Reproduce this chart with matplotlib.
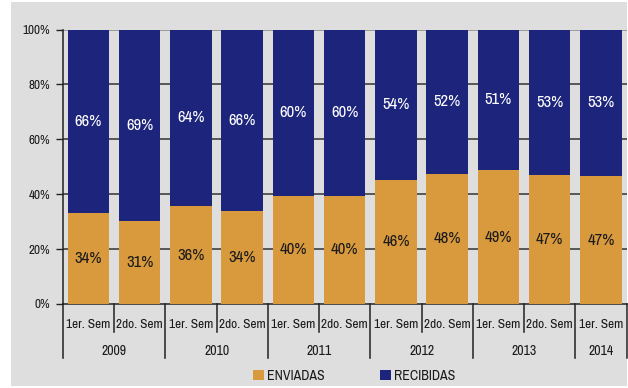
import matplotlib
matplotlib.use("Agg")
import matplotlib.pyplot as plt
from matplotlib.patches import Rectangle, Patch
from matplotlib.lines import Line2D
import matplotlib.transforms as mtransforms

plt.rcParams['font.family'] = ['Archivo Narrow', 'Liberation Sans', 'DejaVu Sans']

# ---- data ----
semesters = ["1er. Sem", "2do. Sem", "1er. Sem", "2do. Sem", "1er. Sem", "2do. Sem",
             "1er. Sem", "2do. Sem", "1er. Sem", "2do. Sem", "1er. Sem"]
years = ["2009", "2010", "2011", "2012", "2013", "2014"]
year_counts = [2, 2, 2, 2, 2, 1]
enviadas = [33.1, 30.2, 35.6, 33.9, 39.4, 39.4, 45.2, 47.4, 48.8, 46.9, 46.5]
recibidas = [100 - v for v in enviadas]
enviadas_labels = ["34%", "31%", "36%", "34%", "40%", "40%", "46%", "48%", "49%", "47%", "47%"]
recibidas_labels = ["66%", "69%", "64%", "66%", "60%", "60%", "54%", "52%", "51%", "53%", "53%"]
yticks = [0, 20, 40, 60, 80, 100]
ytick_labels = ["0%", "20%", "40%", "60%", "80%", "100%"]

c_env = "#D99A3E"
c_rec = "#1C247C"
bg = "#DEDEDE"

W, H = 628, 388
fig = plt.figure(figsize=(W / 100, H / 100), dpi=100)
fig.patch.set_facecolor("white")
# gray panel
fig.patches.append(Rectangle((11 / W, 1 - 386 / H), (627 - 11) / W, (386 - 2) / H,
                             transform=fig.transFigure, facecolor=bg, edgecolor="none", zorder=-10))

ax_l, ax_r, ax_t, ax_b = 62.8, 626.6, 29.5, 304
ax = fig.add_axes([ax_l / W, 1 - ax_b / H, (ax_r - ax_l) / W, (ax_b - ax_t) / H])
ax.set_facecolor("none")

x = list(range(len(enviadas)))
bw = 0.81
ax.bar(x, enviadas, width=bw, color=c_env, zorder=3, edgecolor="none")
ax.bar(x, recibidas, width=bw, bottom=enviadas, color=c_rec, zorder=3, edgecolor="none")

for i in x:
    ax.text(i, enviadas[i] / 2, enviadas_labels[i], ha="center", va="center",
            fontsize=12, color="#1a1a1a", zorder=4)
    ax.text(i, enviadas[i] + recibidas[i] / 2, recibidas_labels[i], ha="center", va="center",
            fontsize=12, color="white", zorder=4)

ax.set_xlim(-0.5, len(x) - 0.5)
ax.set_ylim(0, 100)
ax.set_yticks(yticks)
ax.set_yticklabels(ytick_labels, fontsize=9.5, color="#1a1a1a")
ax.tick_params(axis="y", length=5, width=1, color="#222222", pad=4, direction="out")
ax.set_xticks([])
for y in yticks[1:]:
    ax.axhline(y, color="#888888" if y == 100 else "#333333", lw=1.1, zorder=1)

for s in ["top", "right"]:
    ax.spines[s].set_visible(False)
ax.spines["left"].set_color("#222222")
ax.spines["bottom"].set_color("#222222")
ax.spines["left"].set_linewidth(1.1)
ax.spines["bottom"].set_linewidth(1.1)

trans = mtransforms.blended_transform_factory(ax.transData, ax.transAxes)
hpx = ax_b - ax_t
y_short = -(332 - ax_b) / hpx
y_long = -(358 - ax_b) / hpx
y_sem = -(325 - ax_b) / hpx
y_year = -(351 - ax_b) / hpx

# separators
year_bounds = [-0.5]
acc = -0.5
for c in year_counts:
    acc += c
    year_bounds.append(acc)
for b in [i - 0.5 for i in range(len(x) + 1)]:
    is_year = any(abs(b - yb) < 1e-9 for yb in year_bounds)
    ax.add_line(Line2D([b, b], [0, y_long if is_year else y_short], transform=trans,
                       color="#222222", lw=1.1, clip_on=False))

for i, s in enumerate(semesters):
    ax.text(i, y_sem, s, transform=trans, ha="center", va="center", fontsize=9.6, color="#1a1a1a")
start = -0.5
for yr, c in zip(years, year_counts):
    ax.text(start + c / 2, y_year, yr, transform=trans, ha="center", va="center",
            fontsize=10, color="#1a1a1a")
    start += c

handles = [Patch(facecolor=c_env, edgecolor="none", label="ENVIADAS"),
           Patch(facecolor=c_rec, edgecolor="none", label="RECIBIDAS")]
fig.legend(handles=handles, loc="center", bbox_to_anchor=(354 / W, 1 - 376 / H), ncol=2,
           frameon=False, fontsize=10, handlelength=0.8, handleheight=0.8,
           handletextpad=0.2, columnspacing=4.0, labelcolor="#1a1a1a")

fig.savefig("out.png", dpi=100, facecolor="white")
